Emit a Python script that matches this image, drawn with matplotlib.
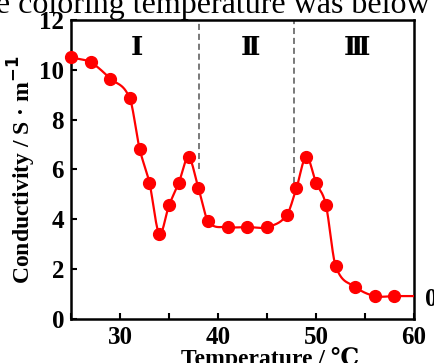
import numpy as np
from matplotlib import pyplot as plt
from matplotlib.ticker import MultipleLocator

plt.rcParams["font.family"] = ["Liberation Serif", "DejaVu Serif"]
plt.rcParams["font.weight"] = "bold"

# temperature (C) and conductivity (S/m)
temp = [25, 27, 29, 31, 32, 33, 34, 35, 36, 37, 38, 39, 41, 43, 45, 47,
        48, 49, 50, 51, 52, 54, 56, 58]
cond = [10.5, 10.3, 9.65, 8.85, 6.83, 5.47, 3.43, 4.56, 5.47, 6.49, 5.25, 3.92,
        3.69, 3.69, 3.69, 4.16, 5.25, 6.52, 5.47, 4.59, 2.13, 1.29, 0.92, 0.92]

region_bounds = [38.1, 47.8]
region_labels = ["Ⅰ", "Ⅱ", "Ⅲ"]
region_label_x = [31.7, 43.3, 54.2]


def smooth_curve(x, y, x_end, n=40):
    """ cubic hermite through the points (catmull-rom type slopes) """
    x = np.asarray(x, float)
    y = np.asarray(y, float)
    m = np.empty_like(y)
    m[1:-1] = (y[2:] - y[:-2]) / (x[2:] - x[:-2])
    m[0] = (y[1] - y[0]) / (x[1] - x[0])
    m[-1] = 0.0
    xs, ys = [], []
    for i in range(len(x) - 1):
        h = x[i+1] - x[i]
        t = np.linspace(0, 1, n, endpoint=False)
        h00 = 2*t**3 - 3*t**2 + 1
        h10 = t**3 - 2*t**2 + t
        h01 = -2*t**3 + 3*t**2
        h11 = t**3 - t**2
        xs.append(x[i] + t*h)
        ys.append(h00*y[i] + h10*h*m[i] + h01*y[i+1] + h11*h*m[i+1])
    xs.append([x[-1], x_end])
    ys.append([y[-1], y[-1]])
    return np.concatenate(xs), np.concatenate(ys)


fig = plt.figure(figsize=(4.34, 3.63), dpi=100)
ax = fig.add_axes([0.1636, 0.1212, 0.7904, 0.8238])

cx, cy = smooth_curve(temp, cond, 60)
ax.plot(cx, cy, color="#ff0000", lw=1.6, zorder=3)
ax.plot(temp, cond, "o", color="#ff0000", markersize=8.5, clip_on=False, zorder=4)

ax.axvline(region_bounds[0], ymin=0.5, ymax=1, color="#555555", lw=1.1, ls=(0, (4, 2.5)))
ax.axvline(region_bounds[1], ymin=0.455, ymax=1, color="#555555", lw=1.1, ls=(0, (4, 2.5)))

for lab, xx in zip(region_labels, region_label_x):
    ax.text(xx, 10.84, lab, ha="center", va="center", fontsize=19, fontweight="bold")

ax.set_xlim(25, 60)
ax.set_ylim(0, 12)
ax.xaxis.set_major_locator(MultipleLocator(10))
ax.xaxis.set_minor_locator(MultipleLocator(5))
ax.yaxis.set_major_locator(MultipleLocator(2))
ax.tick_params(which="both", direction="in", top=False, right=False, width=1.5, labelsize=18)
ax.tick_params(which="major", length=4, pad=5)
ax.tick_params(which="minor", length=4)
for s in ax.spines.values():
    s.set_linewidth(1.8)

ax.set_xlabel("Temperature / ℃", fontsize=17, fontweight="bold")
ax.xaxis.set_label_coords(0.58, -0.095)
ax.set_ylabel("Conductivity / S · m$^{\\mathbf{-1}}$", fontsize=17, fontweight="bold")
ax.yaxis.set_label_coords(-0.097, 0.5)

# bits of the surrounding page cut into the picture
fig.text(430/434, 1 - 13/363, "the coloring temperature was below", ha="right", va="baseline",
         fontsize=23, fontweight="normal")
fig.text(425/434, 1 - 300/363, "0", ha="left", va="center", fontsize=18, fontweight="bold")

fig.savefig("out.png", dpi=100)
